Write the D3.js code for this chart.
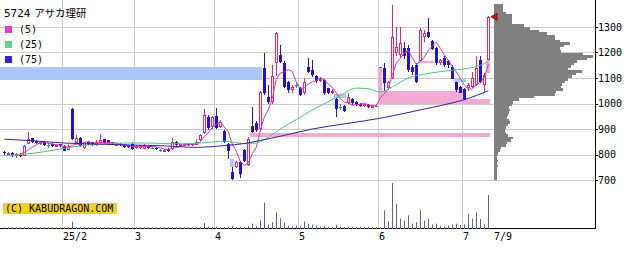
<!DOCTYPE html>
<html>
<head>
<meta charset="utf-8">
<script src="https://cdn.jsdelivr.net/npm/d3@7"></script>
<style>
  body { margin: 0; background: #fff; }
  svg { display: block; }
  text { font-family: "DejaVu Sans Mono", monospace; font-size: 10px; fill: #000; }
</style>
</head>
<body>
<svg id="chart" width="640" height="255"></svg>
<script>
// daily candles, 2025-01-10 .. 2025-07-09 (index 0..121)
const open = [811,801,806,797,803,796,843,863,852,844,850,838,842,834,840,833,818,980,845,866,
  826,850,848,838,845,860,855,848,840,842,838,836,843,825,826,822,835,826,826,818,
  815,822,822,848,834,836,843,841,838,855,884,949,909,952,909,894,843,730,752,770,
  818,760,910,925,900,1138,1027,1007,1160,1190,1160,1084,1053,1072,1059,1040,1143,1133,1106,1090,
  1092,1059,1040,1019,985,990,1001,1017,1005,1000,990,996,985,992,1142,1138,1061,1100,1197,1190,
  1218,1216,1144,1150,1166,1262,1282,1247,1216,1157,1177,1168,1144,1085,1066,1056,1059,1066,1072,1170,
  1072,1170];
const high = [813,810,808,804,806,838,887,866,855,852,852,844,845,842,843,836,842,982,878,870,
  850,853,850,858,879,862,857,850,845,844,840,838,846,838,839,840,838,830,828,823,
  821,824,863,852,845,846,846,843,862,880,978,955,952,981,935,898,846,752,775,775,
  822,870,985,930,1048,1199,1072,1150,1280,1229,1165,1088,1072,1085,1066,1100,1178,1170,1110,1105,
  1096,1062,1057,1020,1000,995,1040,1020,1010,1003,1000,1000,996,1000,1142,1160,1090,1386,1301,1301,
  1240,1230,1150,1157,1295,1290,1334,1250,1220,1175,1185,1170,1150,1085,1070,1060,1080,1125,1186,1186,
  1118,1345];
const low = [800,798,792,786,789,793,840,845,842,838,835,826,830,830,828,812,816,858,840,828,
  822,838,835,835,842,842,837,837,836,833,826,825,818,822,823,820,822,822,818,810,
  812,808,818,834,830,833,835,833,836,852,880,898,900,900,905,845,783,700,748,708,
  770,755,883,890,893,1035,1000,1000,1108,1158,1060,1040,1040,1060,1030,1035,1118,1105,1080,1086,
  1035,1037,1037,946,975,968,998,996,990,985,985,982,982,986,1142,1050,1052,1095,1185,1180,
  1175,1125,1110,1080,1166,1240,1255,1210,1150,1150,1145,1140,1095,1045,1040,1015,1050,1060,1068,1080,
  1046,1170];
const close = [804,806,800,801,796,835,862,848,846,848,838,838,834,838,832,815,830,862,865,832,
  848,842,838,850,857,845,840,840,842,836,830,828,822,835,836,836,825,826,822,818,
  818,812,850,836,842,842,838,837,850,876,955,903,949,905,929,850,813,703,772,722,
  773,862,888,897,1045,1040,1007,1107,1278,1164,1066,1053,1066,1072,1033,1085,1125,1112,1089,1098,
  1040,1040,1050,980,985,972,1027,1001,995,990,998,985,992,992,1142,1080,1085,1262,1222,1237,
  1186,1131,1125,1085,1290,1275,1262,1215,1159,1170,1150,1150,1098,1053,1043,1019,1072,1099,1138,1085,
  1112,1340];
const volume = [60,50,50,50,50,80,90,60,40,40,40,30,30,30,30,50,60,630,120,80,
  60,40,40,50,80,50,40,30,30,30,30,30,50,40,40,40,30,30,30,30,
  30,40,90,50,40,30,30,30,60,90,500,150,120,150,60,100,150,200,100,100,
  100,200,430,200,770,2530,330,570,1570,970,570,230,200,250,200,670,430,330,200,150,
  200,100,100,330,150,100,150,100,100,100,100,100,100,100,60,1770,670,4500,2430,930,
  730,1270,430,570,1830,730,930,370,430,230,170,230,370,430,300,370,1430,930,1570,900,
  370,3300];

// moving averages 25 / 75 (day index, price)
const ma25Day = [0,5,10,15,20,25,30,35,40,45,50,55,60,63,66,69,73,77,81,84,88,91,94,97,101,105,109,113,116,119,121];
const ma25Val = [795,801,811,824,836,842,845,845,843,842,846,852,843,845,868,900,937,975,1007,1032,1060,1058,1045,1065,1100,1115,1125,1132,1138,1150,1164];
const ma75Day = [0,6,15,25,32,40,48,55,60,64,70,77,85,95,104,110,115,121];
const ma75Val = [860,855,845,840,837,834,828,835,843,855,875,900,920,945,975,995,1015,1050];

// open price gaps (window): first day, last day, low, high, up?
const gapFrom = [-1, 57, 62, 83, 94, 95, 115, 104, 113, 121];
const gapTo   = [64, 57, 121, 85, 94, 114, 121, 107, 115, 121];
const gapLo   = [1092, 752, 870, 1020, 1000, 1000, 1000, 1157, 1085, 1118];
const gapHi   = [1142, 782, 883, 1037, 1142, 1050, 1017, 1166, 1095, 1170];
const gapUp   = [false, false, true, false, true, true, true, true, false, true];

// volume by price, 10-yen bins starting at 700
const profileBase = 700, profileStep = 10;
const profileVol = [3,3,3,3,3,4,3,4,3,3, 4,6,7,12,13,17,19,14,12,11,
  12,14,16,15,13,14,15,16,15,18, 19,25,40,61,62,69,67,68,71,74,
  78,82,88,74,77,80,83,93,99,89, 67,66,70,76,66,61,61,53,45,36,
  30,18,18,18,18,12,9,9,9];

const monthDay = [15, 33, 53, 74, 94, 115];
const monthLabel = ["25/2", "3", "4", "5", "6", "7"];
const lastLabel = "7/9";
const priceTicks = [700, 800, 900, 1000, 1100, 1200, 1300];

const svg = d3.select("#chart");
const x = d3.scaleLinear().domain([0, 121]).range([4.3, 488.3]);
const y = d3.scaleLinear().domain([700, 1300]).range([180, 27]);
const yv = d3.scaleLinear().domain([0, 4500]).range([228, 183]);
const xp = d3.scaleLinear().domain([0, 100]).range([494, 594]);
const cx = i => Math.round(x(i));
const crisp = v => Math.round(v) + 0.5;

// grid
svg.append("g").selectAll("line").data(priceTicks).enter().append("line")
  .attr("x1", 0).attr("x2", 595).attr("y1", d => crisp(y(d))).attr("y2", d => crisp(y(d)))
  .attr("stroke", "#cccccc");
svg.append("g").selectAll("line").data(monthDay).enter().append("line")
  .attr("x1", d => Math.round(x(d)) - 1.5).attr("x2", d => Math.round(x(d)) - 1.5)
  .attr("y1", 0).attr("y2", 228).attr("stroke", "#cccccc");

// gap windows
svg.append("g").attr("shape-rendering", "crispEdges").selectAll("rect").data(gapFrom).enter().append("rect")
  .attr("x", (d, i) => Math.max(0, cx(d) - 2))
  .attr("width", (d, i) => cx(gapTo[i]) + 2 - Math.max(0, cx(d) - 2))
  .attr("y", (d, i) => y(gapHi[i]))
  .attr("height", (d, i) => y(gapLo[i]) - y(gapHi[i]))
  .attr("fill", (d, i) => gapUp[i] ? "#f2aad2" : "#abc9f4");

// volume profile
svg.append("g").attr("shape-rendering", "crispEdges").selectAll("rect").data(profileVol).enter().append("rect")
  .attr("x", xp(0))
  .attr("y", (d, k) => y(profileBase + profileStep * (k + 1)))
  .attr("width", d => xp(d) - xp(0))
  .attr("height", (d, k) => y(profileBase + profileStep * k) - y(profileBase + profileStep * (k + 1)))
  .attr("fill", "#808080");

// borders
svg.append("line").attr("x1", 0).attr("x2", 596).attr("y1", 228.5).attr("y2", 228.5).attr("stroke", "#000");
svg.append("line").attr("x1", 595.5).attr("x2", 595.5).attr("y1", 0).attr("y2", 229).attr("stroke", "#000");

// volume bars
svg.append("g").selectAll("line").data(volume).enter().append("line")
  .attr("x1", (d, i) => cx(i) + 0.5).attr("x2", (d, i) => cx(i) + 0.5)
  .attr("y1", d => Math.min(yv(d), 227.5)).attr("y2", 229)
  .attr("stroke", "#6a5ca8");

// candles
const days = d3.range(open.length);
const upCol = "#e42a62", downCol = "#2612c8", dojiCol = "#2f9a4a";
const cg = svg.append("g").attr("shape-rendering", "crispEdges");
days.forEach(i => {
  const o = open[i], c = close[i], h = high[i], l = low[i];
  const px = cx(i);
  const col = c > o ? upCol : c < o ? downCol : dojiCol;
  const top = Math.round(y(Math.max(o, c))), bot = Math.round(y(Math.min(o, c)));
  cg.append("line").attr("x1", px + 0.5).attr("x2", px + 0.5)
    .attr("y1", y(h)).attr("y2", y(l)).attr("stroke", col);
  if (c > o) {
    cg.append("rect").attr("x", px - 0.5).attr("y", top + 0.5)
      .attr("width", 2).attr("height", Math.max(1, bot - top - 1))
      .attr("fill", "#fff").attr("stroke", col);
  } else if (c < o) {
    cg.append("rect").attr("x", px - 1).attr("y", top)
      .attr("width", 3).attr("height", Math.max(1, bot - top)).attr("fill", col);
  } else {
    cg.append("rect").attr("x", px - 1).attr("y", top).attr("width", 3).attr("height", 1).attr("fill", col);
  }
});

// moving averages
const ma5 = close.map((c, i) => i < 4 ? null : d3.mean(close.slice(i - 4, i + 1)));
svg.append("path").datum(ma5)
  .attr("d", d3.line().defined(d => d !== null).x((d, i) => x(i)).y(d => y(d)))
  .attr("fill", "none").attr("stroke", "#d634bf").attr("stroke-width", 1);
svg.append("path").datum(ma25Day.map((d, i) => [d, ma25Val[i]]))
  .attr("d", d3.line().x(d => x(d[0])).y(d => y(d[1])).curve(d3.curveMonotoneX))
  .attr("fill", "none").attr("stroke", "#4cc47c").attr("stroke-width", 1);
svg.append("path").datum(ma75Day.map((d, i) => [d, ma75Val[i]]))
  .attr("d", d3.line().x(d => x(d[0])).y(d => y(d[1])).curve(d3.curveMonotoneX))
  .attr("fill", "none").attr("stroke", "#3020a8").attr("stroke-width", 1);

// last price marker
const lastY = y(close[close.length - 1]);
svg.append("path")
  .attr("d", `M491,${lastY} L497,${lastY - 3.5} L497,${lastY + 3.5} Z`)
  .attr("fill", "#d01818").attr("stroke", "#8a0000").attr("stroke-width", 0.8);

// price axis
const ya = svg.append("g");
ya.selectAll("line").data(priceTicks).enter().append("line")
  .attr("x1", 595).attr("x2", 598).attr("y1", d => crisp(y(d))).attr("y2", d => crisp(y(d)))
  .attr("stroke", "#000");
ya.selectAll("text").data(priceTicks).enter().append("text")
  .attr("x", 598).attr("y", d => y(d)).attr("dy", "0.36em").text(d => d);

// date axis
svg.append("g").selectAll("text").data(monthDay).enter().append("text")
  .attr("x", d => Math.round(x(d)) - 1).attr("y", 240).text((d, i) => monthLabel[i]);
svg.append("text").attr("x", cx(121) + 6).attr("y", 240).text(lastLabel);

// title and legend
const title = svg.append("text").attr("x", 4).attr("y", 17).style("font-size", "11px");
title.append("tspan").text("5724 ");
title.append("tspan").style("font-family", "'Noto Sans CJK JP'").style("font-size", "10.5px").attr("dx", -3).text("アサカ理研");
const legendCol = ["#e23ec9", "#5fd68e", "#3422cc"];
const legendText = ["(5)", "(25)", "(75)"];
legendCol.forEach((c, k) => {
  svg.append("rect").attr("x", 5).attr("y", 26 + 15 * k).attr("width", 7).attr("height", 7).attr("fill", c);
  svg.append("text").attr("x", 19).attr("y", 33 + 15 * k).text(legendText[k]);
});

// copyright badge
svg.append("rect").attr("x", 3).attr("y", 203).attr("width", 114).attr("height", 11).attr("fill", "#f0d21c");
svg.append("text").attr("x", 5).attr("y", 212).text("(C) KABUDRAGON.COM");
</script>
</body>
</html>
